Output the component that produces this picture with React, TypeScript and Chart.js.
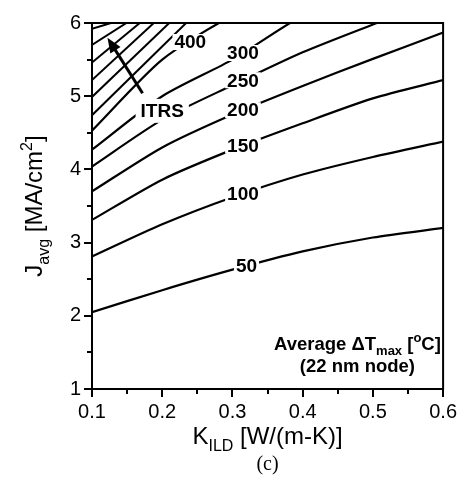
import { useEffect, useRef } from "react";
import { Chart, registerables } from "chart.js";
Chart.register(...registerables);

// ---- data ----
const kILD = [0.1, 0.2, 0.3, 0.4, 0.5, 0.6];
const dT50 = [2.05, 2.35, 2.63, 2.88, 3.07, 3.2];
const dT100 = [2.81, 3.25, 3.62, 3.93, 4.17, 4.38];
const dT150 = [3.31, 3.86, 4.27, 4.63, 4.97, 5.22];
const dT200 = [3.7, 4.3, 4.75, 5.14, 5.51, 5.87];
const dT250 = [4.04, 4.68, 5.15, 5.6, 5.98, 6.35];
const dT300 = [4.27, 5.0, 5.5, 6.1, 6.5, 6.8];
const dT400 = [4.53, 5.5, 6.1, 6.5, 6.8, 7.1];
const contourLevels = ["50", "100", "150", "200", "250", "300", "400"];
const contourSeries = [dT50, dT100, dT150, dT200, dT250, dT300, dT400];
const labelAtK = [0.32, 0.315, 0.315, 0.315, 0.315, 0.315, 0.24];
// ITRS hatch lines: J where each meets K = 0.1, K where each meets J = 6
const hatchLeftJ = [4.74, 4.99, 5.22, 5.46, 5.7, 5.92];
const hatchTopK = [0.234, 0.21, 0.188, 0.168, 0.149, 0.127];
const yTicks = [1, 2, 3, 4, 5, 6];
const xTicks = [0.1, 0.2, 0.3, 0.4, 0.5, 0.6];

type Seg = { t: string; s?: "sub" | "sup" };

function drawRich(ctx: CanvasRenderingContext2D, segs: Seg[], x: number, y: number, size: number, family: string, bold: boolean, ratio = 0.68) {
  const w = bold ? "bold " : "";
  const small = Math.round(size * ratio);
  let total = 0;
  for (const sg of segs) {
    ctx.font = `${w}${sg.s ? small : size}px ${family}`;
    total += ctx.measureText(sg.t).width;
  }
  let cx = x - total / 2;
  ctx.textBaseline = "alphabetic";
  ctx.textAlign = "left";
  for (const sg of segs) {
    ctx.font = `${w}${sg.s ? small : size}px ${family}`;
    const dy = sg.s === "sub" ? size * 0.28 : sg.s === "sup" ? -size * 0.42 : 0;
    ctx.fillText(sg.t, cx, y + dy);
    cx += ctx.measureText(sg.t).width;
  }
  return total;
}

function interp(xs: number[], ys: number[], x: number) {
  for (let i = 0; i < xs.length - 1; i++) {
    if (x >= xs[i] && x <= xs[i + 1]) {
      const f = (x - xs[i]) / (xs[i + 1] - xs[i]);
      return ys[i] + f * (ys[i + 1] - ys[i]);
    }
  }
  return ys[ys.length - 1];
}

const SANS = "'Liberation Sans', Arial, sans-serif";

const decor = {
  id: "decor",
  afterDatasetsDraw(chart: any) {
    const ctx: CanvasRenderingContext2D = chart.ctx;
    const xs = chart.scales.x;
    const ys = chart.scales.y;
    ctx.save();
    ctx.fillStyle = "#000";
    ctx.font = `bold 19px ${SANS}`;
    contourLevels.forEach((lv, i) => {
      const k = labelAtK[i];
      const j = interp(kILD, contourSeries[i], k);
      const px = xs.getPixelForValue(k);
      const py = ys.getPixelForValue(j);
      const tw = ctx.measureText(lv).width;
      ctx.fillStyle = "#fff";
      ctx.fillRect(px - tw / 2 - 2, py - 8, tw + 4, 16);
      ctx.fillStyle = "#000";
      ctx.textAlign = "center";
      ctx.textBaseline = "middle";
      ctx.fillText(lv, px, py + 1);
    });
    const lx = xs.getPixelForValue(0.2);
    const ly = ys.getPixelForValue(4.8);
    ctx.font = `bold 19px ${SANS}`;
    const tw = ctx.measureText("ITRS").width;
    ctx.fillStyle = "#fff";
    ctx.fillRect(lx - tw / 2 - 5, ly - 12, tw + 10, 24);
    ctx.fillStyle = "#000";
    ctx.textAlign = "center";
    ctx.textBaseline = "middle";
    ctx.fillText("ITRS", lx, ly + 1);
    const ax0 = xs.getPixelForValue(0.172), ay0 = ys.getPixelForValue(5.04);
    const ax1 = xs.getPixelForValue(0.122), ay1 = ys.getPixelForValue(5.8);
    const ang = Math.atan2(ay1 - ay0, ax1 - ax0);
    ctx.strokeStyle = "#000";
    ctx.lineWidth = 3;
    ctx.beginPath();
    ctx.moveTo(ax0, ay0);
    ctx.lineTo(ax1 - Math.cos(ang) * 8, ay1 - Math.sin(ang) * 8);
    ctx.stroke();
    ctx.beginPath();
    ctx.moveTo(ax1, ay1);
    ctx.lineTo(ax1 - Math.cos(ang) * 15 + Math.sin(ang) * 6, ay1 - Math.sin(ang) * 15 - Math.cos(ang) * 6);
    ctx.lineTo(ax1 - Math.cos(ang) * 15 - Math.sin(ang) * 6, ay1 - Math.sin(ang) * 15 + Math.cos(ang) * 6);
    ctx.closePath();
    ctx.fill();
    ctx.restore();
  },
  afterDraw(chart: any) {
    const ctx: CanvasRenderingContext2D = chart.ctx;
    const xs = chart.scales.x;
    const ys = chart.scales.y;
    const a = chart.chartArea;
    ctx.save();
    ctx.strokeStyle = "#000";
    ctx.lineWidth = 2;
    ctx.strokeRect(a.left, a.top, a.right - a.left, a.bottom - a.top);
    ctx.beginPath();
    for (let v = 1; v <= 6.001; v += 0.5) {
      const p = Math.round(ys.getPixelForValue(v));
      const major = Math.abs(v - Math.round(v)) < 1e-6;
      ctx.moveTo(a.left, p);
      ctx.lineTo(a.left - (major ? 8 : 5), p);
    }
    for (let i = 0; i <= 10; i++) {
      const v = 0.1 + i * 0.05;
      const p = Math.round(xs.getPixelForValue(v));
      ctx.moveTo(p, a.bottom);
      ctx.lineTo(p, a.bottom + (i % 2 === 0 ? 8 : 5));
    }
    ctx.stroke();
    ctx.fillStyle = "#000";
    const cx = (a.left + a.right) / 2;
    drawRich(ctx, [{ t: "K" }, { t: "ILD", s: "sub" }, { t: " [W/(m-K)]" }], cx, 444, 24, SANS, false, 0.68);
    ctx.font = `20px 'Liberation Serif', 'Times New Roman', serif`;
    ctx.textAlign = "center";
    ctx.textBaseline = "alphabetic";
    ctx.fillText("(c)", cx, 470);
    ctx.save();
    ctx.translate(42, (a.top + a.bottom) / 2);
    ctx.rotate(-Math.PI / 2);
    drawRich(ctx, [{ t: "J" }, { t: "avg", s: "sub" }, { t: " [MA/cm" }, { t: "2", s: "sup" }, { t: "]" }], 0, 0, 24, SANS, false, 0.68);
    ctx.restore();
    const tx = xs.getPixelForValue(0.478);
    drawRich(ctx, [{ t: "Average \u0394T" }, { t: "max", s: "sub" }, { t: " [" }, { t: "o", s: "sup" }, { t: "C]" }], tx, ys.getPixelForValue(1.53), 18.5, SANS, true, 0.7);
    drawRich(ctx, [{ t: "(22 nm node)" }], tx, ys.getPixelForValue(1.23), 18.5, SANS, true);
    ctx.restore();
  },
};

export default function App() {
  const ref = useRef<HTMLCanvasElement>(null);
  useEffect(() => {
    const datasets: any[] = contourSeries.map((s, i) => ({
      label: contourLevels[i],
      data: kILD.map((k, n) => ({ x: k, y: s[n] })),
      borderColor: "#000",
      borderWidth: 2.2,
      pointRadius: 0,
      tension: 0.25,
      fill: false,
    }));
    hatchLeftJ.forEach((j, i) => {
      datasets.push({
        label: "hatch" + i,
        data: [
          { x: 0.1, y: j },
          { x: hatchTopK[i], y: 6 },
        ],
        borderColor: "#000",
        borderWidth: 2,
        pointRadius: 0,
        tension: 0,
        fill: false,
      });
    });
    const chart = new Chart(ref.current!, {
      type: "line",
      data: { datasets },
      options: {
        animation: false,
        responsive: false,
        devicePixelRatio: 1,
        layout: { padding: { top: 20, right: 22, left: 0, bottom: 0 } },
        plugins: { legend: { display: false }, tooltip: { enabled: false }, title: { display: false } },
        scales: {
          x: {
            type: "linear",
            min: 0.1,
            max: 0.6,
            afterFit: (s: any) => { s.height = 98; },
            afterBuildTicks: (s: any) => { s.ticks = xTicks.map((v) => ({ value: v })); },
            ticks: { font: { family: SANS, size: 20 }, color: "#000", padding: 11, maxRotation: 0, autoSkip: false, callback: (v: any) => Number(v).toFixed(1) },
            grid: { display: false, drawTicks: false },
            border: { display: false },
          },
          y: {
            type: "linear",
            min: 1,
            max: 6,
            afterFit: (s: any) => { s.width = 92; },
            afterBuildTicks: (s: any) => { s.ticks = yTicks.map((v) => ({ value: v })); },
            ticks: { font: { family: SANS, size: 20 }, color: "#000", padding: 11, callback: (v: any) => String(v) },
            grid: { display: false, drawTicks: false },
            border: { display: false },
          },
        },
      },
      plugins: [decor],
    });
    return () => chart.destroy();
  }, []);
  return (
    <div style={{ position: "absolute", left: 0, top: 0, width: 468, height: 487, background: "#fff" }}>
      <canvas ref={ref} width={468} height={487} style={{ width: 468, height: 487 }} />
    </div>
  );
}
